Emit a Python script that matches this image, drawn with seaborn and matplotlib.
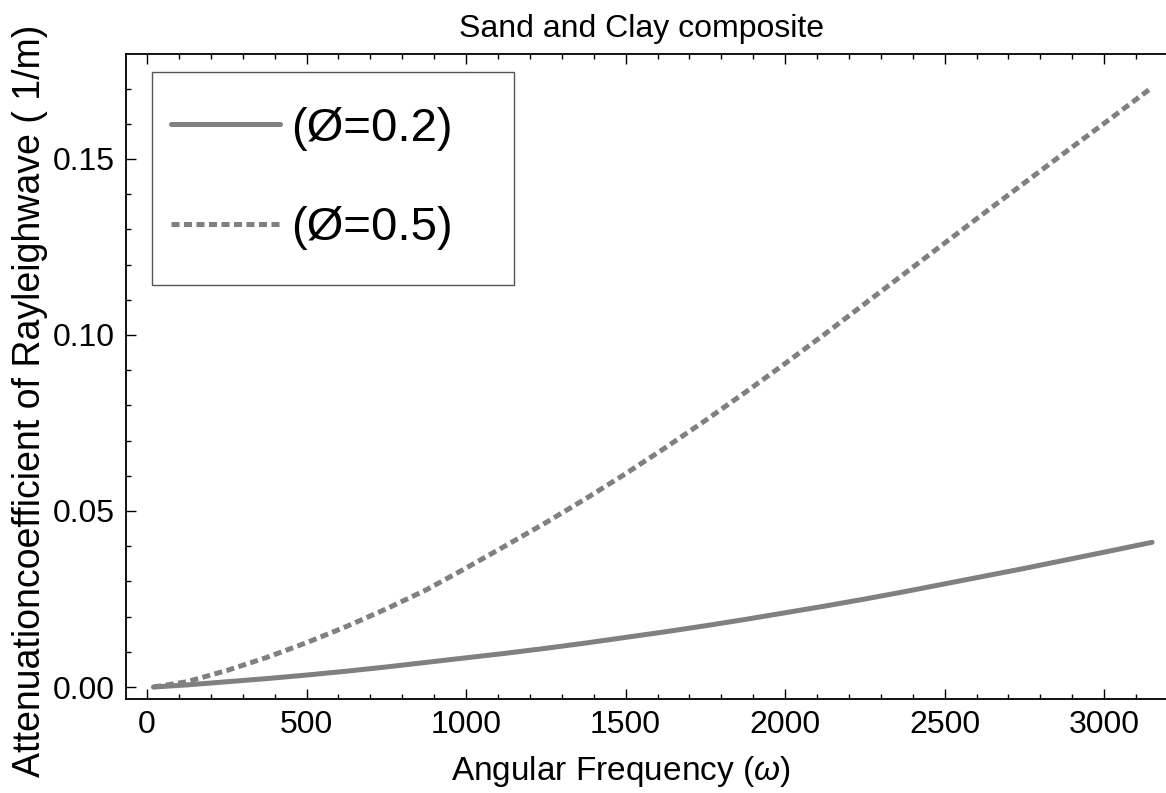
import numpy as np
import pandas as pd
import matplotlib
matplotlib.use("Agg")
import matplotlib.pyplot as plt
import seaborn as sns
from matplotlib.ticker import MultipleLocator
from matplotlib.lines import Line2D
from matplotlib.patches import Rectangle

# ---- data ----
omega = [20, 125, 250, 375, 500, 625, 750, 875, 1000, 1125, 1250, 1375, 1500, 1625,
         1750, 1875, 2000, 2125, 2250, 2375, 2500, 2625, 2750, 2875, 3000, 3150]
att_phi02 = [0.0, 0.0006, 0.0015, 0.0024, 0.0034, 0.0045, 0.0057, 0.0070, 0.0083,
             0.0096, 0.0110, 0.0125, 0.0141, 0.0157, 0.0174, 0.0192, 0.0211, 0.0230,
             0.0250, 0.0271, 0.0293, 0.0315, 0.0337, 0.0360, 0.0383, 0.0411]
att_phi05 = [0.0, 0.0015, 0.0047, 0.0084, 0.0126, 0.0172, 0.0222, 0.0276, 0.0338,
             0.0402, 0.0467, 0.0535, 0.0606, 0.0680, 0.0757, 0.0837, 0.0919, 0.1003,
             0.1089, 0.1175, 0.1261, 0.1347, 0.1432, 0.1517, 0.1601, 0.1703]
series_labels = ["(Ø=0.2)", "(Ø=0.5)"]
x_ticks = [0, 500, 1000, 1500, 2000, 2500, 3000]
y_ticks = [0.00, 0.05, 0.10, 0.15]
title = "Sand and Clay composite"
xlabel = r"Angular Frequency ($\omega$)"
ylabel = "Attenuationcoefficient of Rayleighwave ( 1/m)"

df = pd.DataFrame({
    "omega": omega * 2,
    "att": att_phi02 + att_phi05,
    "phi": [series_labels[0]] * len(omega) + [series_labels[1]] * len(omega),
})

sns.set_style("ticks")
plt.rcParams["font.family"] = ["Liberation Sans", "DejaVu Sans"]
plt.rcParams["mathtext.fontset"] = "custom"
plt.rcParams["mathtext.it"] = "Liberation Sans:italic"
plt.rcParams["mathtext.rm"] = "Liberation Sans"
for k in ["text.color", "axes.labelcolor", "xtick.color", "ytick.color"]:
    plt.rcParams[k] = "black"

W, H = 1166, 793
fig = plt.figure(figsize=(W / 100, H / 100), dpi=100)
ax_l, ax_r, ax_t, ax_b = 126, 1168, 54, 699
ax = fig.add_axes([ax_l / W, (H - ax_b) / H, (ax_r - ax_l) / W, (ax_b - ax_t) / H])
aw, ah = ax_r - ax_l, ax_b - ax_t

gray = "#808080"
lw = 3.6
dotted = (0, (1.6, 0.9))
sns.lineplot(data=df[df.phi == series_labels[0]], x="omega", y="att", ax=ax,
             color=gray, lw=lw, legend=False)
sns.lineplot(data=df[df.phi == series_labels[1]], x="omega", y="att", ax=ax,
             color=gray, lw=lw, legend=False)
ax.lines[1].set_linestyle(dotted)
ax.lines[1].set_dash_capstyle("butt")

ax.set_xlim(-66, 3200)
ax.set_ylim(-0.0034, 0.1798)
ax.set_xticks(x_ticks)
ax.set_yticks(y_ticks)
ax.set_yticklabels([f"{v:.2f}" for v in y_ticks])
ax.xaxis.set_minor_locator(MultipleLocator(100))
ax.yaxis.set_minor_locator(MultipleLocator(0.01))
ax.tick_params(which="both", direction="in", top=True, right=False, width=1.0,
               labelsize=23, color="black")
ax.tick_params(which="major", length=7, pad=8)
ax.tick_params(which="minor", length=3.5)
for name, s in ax.spines.items():
    s.set_linewidth(1.3)
    s.set_color("black")
ax.spines["right"].set_visible(False)

ax.set_title(title, fontsize=23, pad=12, x=(641 - ax_l) / aw)
ax.set_xlabel(xlabel, fontsize=24)
ax.xaxis.set_label_coords((621 - ax_l) / aw, -0.085)
ax.set_ylabel(ylabel, fontsize=27)
ax.yaxis.set_label_coords(-0.075, 0.462)

# legend box (Mathematica style: wide frame, tight entries)
ax.add_patch(Rectangle(((152 - ax_l) / aw, (ax_b - 285) / ah), 362 / aw, 213 / ah,
                       transform=ax.transAxes, fill=True, facecolor="white",
                       edgecolor="#555555", lw=1.0, zorder=4))
handles = [Line2D([], [], color=gray, lw=lw),
           Line2D([], [], color=gray, lw=lw, linestyle=dotted, dash_capstyle="butt")]
leg = ax.legend(handles, series_labels, loc="upper left",
                bbox_to_anchor=((171 - ax_l) / aw, (ax_b - 107) / ah),
                borderaxespad=0, borderpad=0, fontsize=34, frameon=False,
                handlelength=2.3, handletextpad=0.25, labelspacing=1.17)
leg.set_zorder(5)

fig.savefig("out.png", dpi=100)
